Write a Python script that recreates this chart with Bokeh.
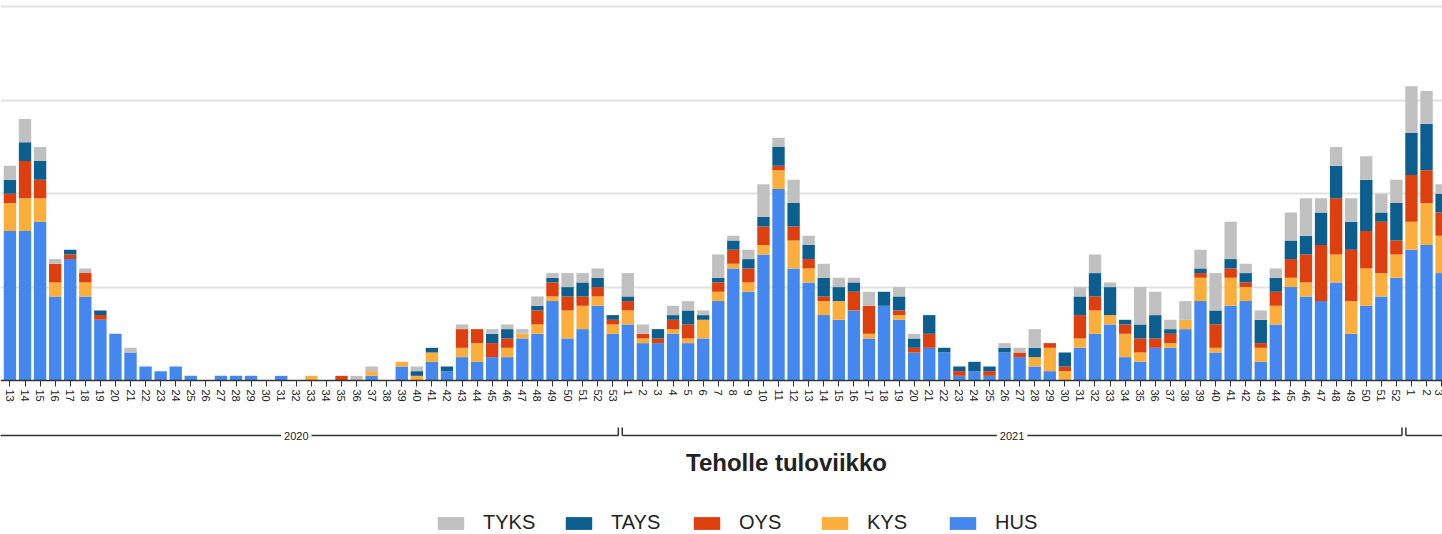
from bokeh.plotting import figure
from bokeh.models import ColumnDataSource, Range1d, FixedTicker, Legend, LegendItem, Label
from bokeh.embed import file_html
from bokeh.resources import INLINE
from bokeh.core.properties import value

# ---------------- data ----------------
years = [2020] * 41 + [2021] * 52 + [2022] * 3
weeks = list(range(13, 54)) + list(range(1, 53)) + list(range(1, 4))

HUS = [32, 32, 34, 18, 26, 18, 13, 10, 6, 3, 2, 3, 1, 0, 1, 1, 1, 0, 1, 0, 0, 0, 0, 0, 1, 0,
       3, 0, 4, 2, 5, 4, 5, 5, 9, 10, 17, 9, 11, 16, 10,
       12, 8, 8, 10, 8, 9, 17, 24, 19, 27, 41, 24, 21, 14, 13, 15, 9, 16, 13, 6, 7, 6, 1, 2, 1, 6,
       5, 3, 2, 0, 7, 10, 12, 5, 4, 7, 7, 11, 17, 6, 16, 17, 4, 12, 20, 18, 17, 21, 10, 16, 18, 22,
       28, 29, 23]
KYS = [6, 7, 5, 3, 0, 3, 0, 0, 0, 0, 0, 0, 0, 0, 0, 0, 0, 0, 0, 0, 1, 0, 0, 0, 1, 0,
       1, 1, 2, 0, 2, 4, 0, 2, 1, 2, 1, 6, 5, 2, 2,
       3, 1, 0, 1, 1, 4, 2, 1, 2, 2, 4, 6, 3, 3, 4, 0, 1, 0, 1, 0, 0, 0, 0, 0, 0, 0,
       0, 2, 5, 2, 2, 5, 2, 5, 2, 0, 1, 2, 5, 1, 6, 3, 3, 4, 2, 3, 0, 6, 7, 8, 5, 5,
       6, 9, 8]
OYS = [2, 8, 4, 4, 1, 2, 1, 0, 0, 0, 0, 0, 0, 0, 0, 0, 0, 0, 0, 0, 0, 0, 1, 0, 0, 0,
       0, 0, 0, 0, 4, 3, 3, 2, 0, 3, 3, 3, 2, 2, 1,
       2, 1, 1, 2, 3, 0, 2, 3, 3, 4, 1, 3, 2, 1, 0, 4, 6, 0, 1, 1, 3, 0, 1, 0, 1, 0,
       1, 0, 1, 1, 5, 3, 0, 2, 3, 2, 2, 0, 1, 5, 2, 1, 1, 3, 4, 6, 12, 12, 11, 8, 11, 3,
       10, 7, 5]
TAYS = [3, 4, 4, 0, 1, 0, 1, 0, 0, 0, 0, 0, 0, 0, 0, 0, 0, 0, 0, 0, 0, 0, 0, 0, 0, 0,
        0, 1, 1, 1, 0, 0, 2, 2, 0, 1, 1, 2, 3, 2, 1,
        1, 0, 2, 1, 3, 1, 1, 2, 2, 2, 4, 5, 3, 4, 3, 2, 0, 3, 3, 2, 4, 1, 1, 2, 1, 1,
        0, 2, 0, 3, 4, 5, 6, 1, 3, 5, 1, 0, 1, 3, 2, 2, 5, 3, 4, 4, 7, 7, 6, 11, 2, 8,
        9, 10, 4]
TYKS = [3, 5, 3, 1, 0, 1, 0, 0, 1, 0, 0, 0, 0, 0, 0, 0, 0, 0, 0, 0, 0, 0, 0, 1, 1, 0,
        0, 1, 0, 0, 1, 0, 1, 1, 1, 2, 1, 3, 2, 2, 0,
        5, 2, 0, 2, 2, 1, 5, 1, 2, 7, 2, 5, 2, 3, 2, 1, 3, 0, 2, 1, 0, 0, 0, 0, 0, 1,
        1, 4, 0, 0, 2, 4, 1, 0, 8, 5, 2, 4, 4, 8, 8, 2, 2, 2, 6, 8, 3, 4, 5, 5, 4, 5,
        10, 7, 2]

series = ["HUS", "KYS", "OYS", "TAYS", "TYKS"]
colors = ["#4487EE", "#FBAE3C", "#DD3F0E", "#0C5E8E", "#C0C0C0"]
legend_order = ["TYKS", "TAYS", "OYS", "KYS", "HUS"]
axis_title = "Teholle tuloviikko"
first_week_2020_axis = 11   # the 2020 group of the original axis starts (off-screen) at week 11

# ---------------- layout constants ----------------
W, H = 1442, 534
PX = 4.67                 # pixels per patient
BASE = 380                # baseline, px below top of frame
STEP = 15.07              # px per week
y_top = BASE / PX
y_bot = -(H - BASE) / PX
x_start = -9.45 / STEP
x_end = x_start + W / STEP

idx = list(range(len(weeks)))
src = ColumnDataSource(dict(idx=idx, HUS=HUS, KYS=KYS, OYS=OYS, TAYS=TAYS, TYKS=TYKS))

p = figure(width=W, height=H, x_range=Range1d(x_start, x_end), y_range=Range1d(y_bot, y_top),
           toolbar_location=None, output_backend="svg", min_border=0,
           outline_line_color=None, background_fill_color="white")

renderers = p.vbar_stack(series, x="idx", width=0.82, source=src,
                         fill_color=colors, line_color=None)

# grid
p.yaxis.visible = False
p.ygrid.ticker = FixedTicker(ticks=[20, 40, 60, 80])
p.ygrid.grid_line_color = "#e2e2e2"
p.ygrid.grid_line_width = 2
p.xgrid.visible = False

# x axis (weeks)
ax = p.xaxis[0]
ax.fixed_location = 0
ax.ticker = FixedTicker(ticks=idx)
ax.major_label_overrides = {i: str(w) for i, w in zip(idx, weeks)}
ax.major_label_orientation = "vertical"
ax.major_label_text_font = "Liberation Sans"
ax.major_label_text_font_size = "11px"
ax.major_label_text_color = "#222222"
ax.major_label_standoff = 3
ax.axis_line_color = "#333333"
ax.axis_line_width = 1.5
ax.major_tick_line_color = "#333333"
ax.major_tick_out = 6
ax.major_tick_in = 0
ax.minor_tick_line_color = None

# year bracket line
year_line_y = -(435 - BASE) / PX
tick_h = 8 / PX
gap = 0.13
groups = []
for yv in sorted(set(years)):
    ii = [i for i, yy in enumerate(years) if yy == yv]
    s, e = ii[0], ii[-1]
    if yv == 2020:
        s = s - (weeks[0] - first_week_2020_axis)
    groups.append((yv, s, e))
x0 = [s - 0.5 + gap for _, s, e in groups]
x1 = [e + 0.5 - gap for _, s, e in groups]
p.segment(x0=x0, y0=[year_line_y] * len(groups), x1=x1, y1=[year_line_y] * len(groups),
          line_color="#333333", line_width=1.5)
p.segment(x0=x0 + x1, y0=[year_line_y] * (2 * len(groups)), x1=x0 + x1,
          y1=[year_line_y + tick_h] * (2 * len(groups)), line_color="#333333", line_width=1.5)

label_years = [str(yv) for yv, s, e in groups if yv != 2022]
label_x = [(s + e) / 2 for yv, s, e in groups if yv != 2022]
p.text(x=label_x, y=[year_line_y] * len(label_x), text=label_years,
       text_align="center", text_baseline="middle", text_font=value("Liberation Sans"),
       text_font_size="11px", text_color="#222222",
       background_fill_color="white", padding=3)

# axis title
p.add_layout(Label(x=786, y=H - 462, x_units="screen", y_units="screen", text=axis_title,
                   text_align="center", text_baseline="middle", text_font="Liberation Sans",
                   text_font_size="24px", text_font_style="bold", text_color="#222222"))

# legend
by_name = dict(zip(series, renderers))
legend = Legend(items=[LegendItem(label=n, renderers=[by_name[n]]) for n in legend_order],
                location=(434, 0), orientation="horizontal",
                glyph_width=33, glyph_height=16, label_standoff=16, label_width=79,
                spacing=0, padding=0, margin=0, border_line_color=None,
                background_fill_alpha=0, label_text_font="Liberation Sans",
                label_text_font_size="20px", label_text_color="#222222")
p.add_layout(legend)

open("out.html", "w").write(file_html(p, INLINE))
